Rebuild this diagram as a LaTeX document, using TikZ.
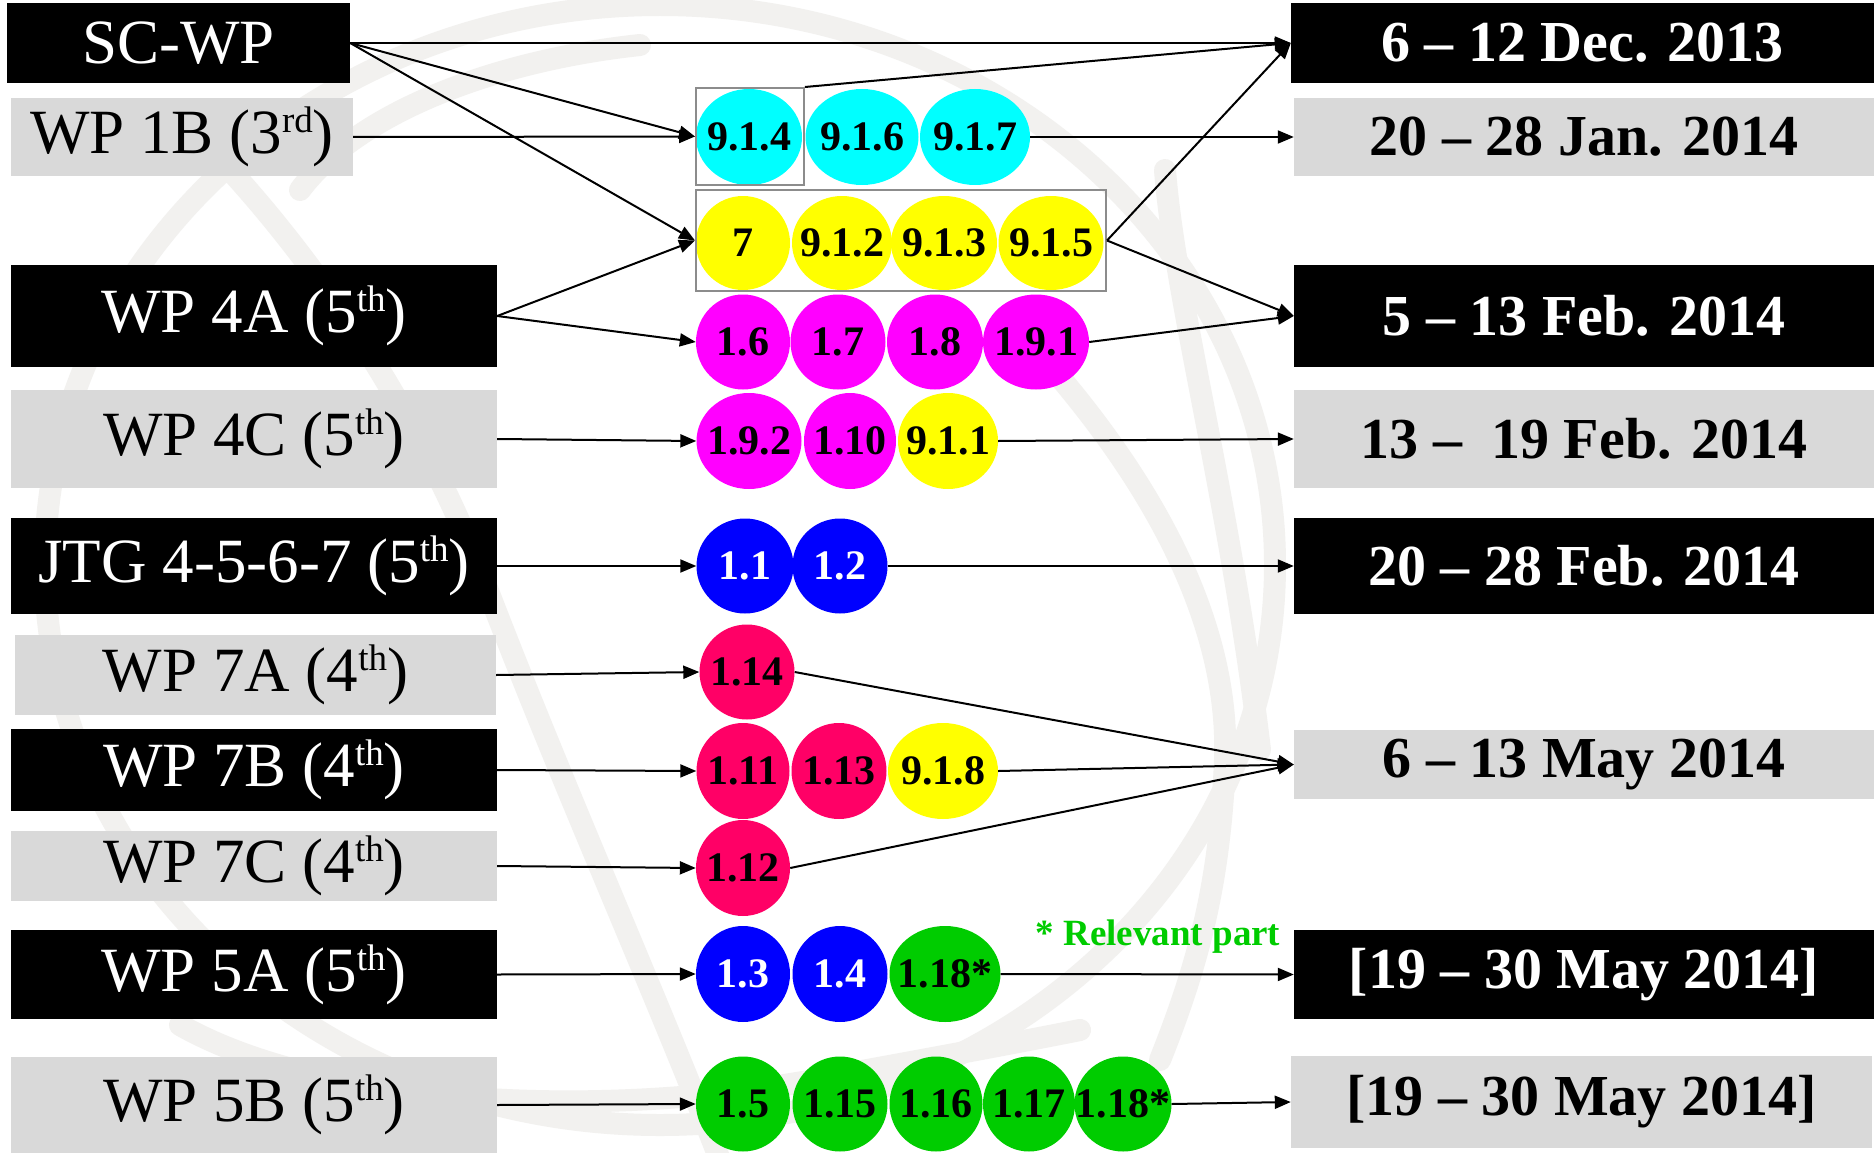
\documentclass[tikz,border=0pt]{standalone}
\usepackage{fontspec}
\setmainfont{Liberation Serif}
\usetikzlibrary{arrows.meta,shapes.geometric}
\definecolor{boxgray}{HTML}{D9D9D9}
\definecolor{wmgray}{HTML}{F2F1EF}
\definecolor{grpgray}{HTML}{8C8C8C}
\definecolor{bcyan}{HTML}{00FFFF}
\definecolor{byellow}{HTML}{FFFF00}
\definecolor{bmagenta}{HTML}{FF00FF}
\definecolor{bblue}{HTML}{0000FF}
\definecolor{bcrimson}{HTML}{FF0066}
\definecolor{bgreen}{HTML}{00CC00}
\newcommand\lefttxt{\fontsize{63}{70}\selectfont}
\newcommand\righttxt{\fontsize{58}{64}\selectfont\bfseries}
\newcommand\bubtxt{\fontsize{42}{46}\selectfont\bfseries}
\newcommand\bubt[1]{\makebox[0pt]{#1}}
\newcommand\sups[1]{\raisebox{21pt}{\fontsize{37}{40}\selectfont #1}}
\tikzset{
  lblack/.style={rectangle, fill=black, text=white, inner sep=0pt, font=\lefttxt},
  lgray/.style={rectangle, fill=boxgray, text=black, inner sep=0pt, font=\lefttxt},
  rblack/.style={rectangle, fill=black, text=white, inner sep=0pt, font=\righttxt},
  rgray/.style={rectangle, fill=boxgray, text=black, inner sep=0pt, font=\righttxt},
  bub/.style={ellipse, fill=#1, inner sep=0pt, font=\bubtxt, text=black},
  bubw/.style={ellipse, fill=#1, inner sep=0pt, font=\bubtxt, text=white},
  grpbox/.style={rectangle, draw=grpgray, line width=2pt, inner sep=0pt},
  conn/.style={draw=black, line width=2pt, -{Triangle[length=16pt,width=13pt]}},
  wm/.style={draw=wmgray, line width=22pt, line cap=round}
}
\begin{document}
\begin{tikzpicture}[x=1pt,y=-1pt]
\useasboundingbox (0,0) rectangle (1874,1153);
\fill[white] (0,0) rectangle (1874,1153);
% watermark
\begin{scope}
\clip (0,0) rectangle (1874,1153);
\draw[wm] (660,565) ellipse [x radius=615, y radius=560];
\draw[wm] (230,170) .. controls (330,280) and (420,420) .. (480,570) .. controls (560,780) and (650,980) .. (720,1160);
\draw[wm] (1045,360) .. controls (1150,480) and (1230,620) .. (1225,760) .. controls (1220,880) and (1200,960) .. (1160,1060);
\draw[wm] (1165,170) .. controls (1175,300) and (1230,500) .. (1260,750);
\draw[wm] (180,1025) .. controls (330,1110) and (620,1120) .. (840,1075) .. controls (950,1055) and (1030,1040) .. (1080,1030);
\draw[wm] (300,190) .. controls (360,110) and (500,60) .. (640,45);
\end{scope}
% left boxes
\node[lblack, minimum width=343pt, minimum height=80pt] (scwp) at (178.5,43) {SC-WP};
\node[lgray, minimum width=342pt, minimum height=78pt] (wp1b) at (182,137) {WP 1B (3\sups{rd})};
\node[lblack, minimum width=486pt, minimum height=102pt] (wp4a) at (254,316) {WP 4A (5\sups{th})};
\node[lgray, minimum width=486pt, minimum height=98pt] (wp4c) at (254,439) {WP 4C (5\sups{th})};
\node[lblack, minimum width=486pt, minimum height=96pt] (jtg) at (254,566) {JTG 4-5-6-7 (5\sups{th})};
\node[lgray, minimum width=481pt, minimum height=80pt] (wp7a) at (255.5,675) {WP 7A (4\sups{th})};
\node[lblack, minimum width=486pt, minimum height=82pt] (wp7b) at (254,770) {WP 7B (4\sups{th})};
\node[lgray, minimum width=486pt, minimum height=70pt] (wp7c) at (254,866) {WP 7C (4\sups{th})};
\node[lblack, minimum width=486pt, minimum height=89pt] (wp5a) at (254,974.5) {WP 5A (5\sups{th})};
\node[lgray, minimum width=486pt, minimum height=96pt] (wp5b) at (254,1105) {WP 5B (5\sups{th})};
% right boxes
\node[rblack, minimum width=583pt, minimum height=80pt] (dec) at (1582.5,43) {6 – 12 Dec. 2013};
\node[rgray, minimum width=580pt, minimum height=78pt] (jan) at (1584,137) {20 – 28 Jan. 2014};
\node[rblack, minimum width=580pt, minimum height=102pt] (febA) at (1584,316) {5 – 13 Feb. 2014};
\node[rgray, minimum width=580pt, minimum height=98pt] (febB) at (1584,439) {13 –\ \ 19 Feb. 2014};
\node[rblack, minimum width=580pt, minimum height=96pt] (febC) at (1584,566) {20 – 28 Feb. 2014};
\node[rgray, minimum width=580pt, minimum height=69pt] (mayA) at (1584,764.5) {6 – 13 May 2014};
\node[rblack, minimum width=580pt, minimum height=89pt] (mayB) at (1584,974.5) {[19 – 30 May 2014]};
\node[rgray, minimum width=581pt, minimum height=92pt] (mayC) at (1581.5,1102) {[19 – 30 May 2014]};
% bubbles: cyan row
\node[bub=bcyan, minimum width=106pt, minimum height=96pt] (c914) at (749,137) {\bubt{9.1.4}};
\node[bub=bcyan, minimum width=113pt, minimum height=96pt] (c916) at (862,137) {\bubt{9.1.6}};
\node[bub=bcyan, minimum width=110pt, minimum height=96pt] (c917) at (975,137) {\bubt{9.1.7}};
% yellow row
\node[bub=byellow, minimum width=94pt, minimum height=94pt] (y7) at (743,243) {\bubt{7}};
\node[bub=byellow, minimum width=100pt, minimum height=94pt] (y912) at (842,243) {\bubt{9.1.2}};
\node[bub=byellow, minimum width=106pt, minimum height=94pt] (y913) at (944,243) {\bubt{9.1.3}};
\node[bub=byellow, minimum width=105pt, minimum height=94pt] (y915) at (1051,243) {\bubt{9.1.5}};
% magenta row
\node[bub=bmagenta, minimum width=94pt, minimum height=95pt] (m16) at (743,342) {\bubt{1.6}};
\node[bub=bmagenta, minimum width=95pt, minimum height=95pt] (m17) at (838,342) {\bubt{1.7}};
\node[bub=bmagenta, minimum width=96pt, minimum height=95pt] (m18) at (935,342) {\bubt{1.8}};
\node[bub=bmagenta, minimum width=106pt, minimum height=95pt] (m191) at (1036,342) {\bubt{1.9.1}};
% WP 4C row
\node[bub=bmagenta, minimum width=105pt, minimum height=96pt] (m192) at (749,441) {\bubt{1.9.2}};
\node[bub=bmagenta, minimum width=92pt, minimum height=96pt] (m110) at (850,441) {\bubt{1.10}};
\node[bub=byellow, minimum width=100pt, minimum height=96pt] (y911) at (948,441) {\bubt{9.1.1}};
% JTG row
\node[bubw=bblue, minimum width=97pt, minimum height=95pt] (b11) at (745,566) {\bubt{1.1}};
\node[bubw=bblue, minimum width=95pt, minimum height=95pt] (b12) at (840,566) {\bubt{1.2}};
% WP 7A row
\node[bub=bcrimson, minimum width=95pt, minimum height=95pt] (r114) at (747,672) {\bubt{1.14}};
% WP 7B row
\node[bub=bcrimson, minimum width=93pt, minimum height=96pt] (r111) at (743,771) {\bubt{1.11}};
\node[bub=bcrimson, minimum width=95pt, minimum height=96pt] (r113) at (839,771) {\bubt{1.13}};
\node[bub=byellow, minimum width=110pt, minimum height=96pt] (y918) at (943,771) {\bubt{9.1.8}};
% WP 7C row
\node[bub=bcrimson, minimum width=94pt, minimum height=96pt] (r112) at (743,868) {\bubt{1.12}};
% WP 5A row
\node[bubw=bblue, minimum width=94pt, minimum height=96pt] (b13) at (743,974) {\bubt{1.3}};
\node[bubw=bblue, minimum width=95pt, minimum height=96pt] (b14) at (840,974) {\bubt{1.4}};
\node[bub=bgreen, minimum width=111pt, minimum height=96pt] (g118a) at (945,974) {\bubt{1.18*}};
% WP 5B row
\node[bub=bgreen, minimum width=94pt, minimum height=95pt] (g15) at (743,1104) {\bubt{1.5}};
\node[bub=bgreen, minimum width=95pt, minimum height=95pt] (g115) at (840,1104) {\bubt{1.15}};
\node[bub=bgreen, minimum width=93pt, minimum height=95pt] (g116) at (936,1104) {\bubt{1.16}};
\node[bub=bgreen, minimum width=92pt, minimum height=95pt] (g117) at (1029,1104) {\bubt{1.17}};
\node[bub=bgreen, minimum width=97pt, minimum height=95pt] (g118b) at (1123,1104) {\bubt{1.18*}};
% group boxes
\node[grpbox, minimum width=108pt, minimum height=97pt] (grpc) at (750,136.5) {};
\node[grpbox, minimum width=410pt, minimum height=101pt] (grpy) at (901,240.5) {};
% note
\node[text=bgreen, font=\fontsize{37}{40}\selectfont\bfseries, inner sep=0pt] (note) at (1158,937) {* Relevant part};
% connectors
\draw[conn] (scwp.east) -- (dec.west);
\draw[conn] (scwp.east) -- (grpc.west);
\draw[conn] (scwp.east) -- (grpy.west);
\draw[conn] (grpc.north east) -- (dec.west);
\draw[conn] (wp1b.east) -- (grpc.west);
\draw[conn] (c917.east) -- (jan.west);
\draw[conn] (grpy.east) -- (dec.west);
\draw[conn] (grpy.east) -- (febA.west);
\draw[conn] (m191.east) -- (febA.west);
\draw[conn] (wp4a.east) -- (grpy.west);
\draw[conn] (wp4a.east) -- (m16.west);
\draw[conn] (wp4c.east) -- (m192.west);
\draw[conn] (y911.east) -- (febB.west);
\draw[conn] (jtg.east) -- (b11.west);
\draw[conn] (b12.east) -- (febC.west);
\draw[conn] (wp7a.east) -- (r114.west);
\draw[conn] (r114.east) -- (mayA.west);
\draw[conn] (wp7b.east) -- (r111.west);
\draw[conn] (y918.east) -- (mayA.west);
\draw[conn] (wp7c.east) -- (r112.west);
\draw[conn] (r112.east) -- (mayA.west);
\draw[conn] (wp5a.east) -- (b13.west);
\draw[conn] (g118a.east) -- (mayB.west);
\draw[conn] (wp5b.east) -- (g15.west);
\draw[conn] (g118b.east) -- (mayC.west);
\end{tikzpicture}
\end{document}
